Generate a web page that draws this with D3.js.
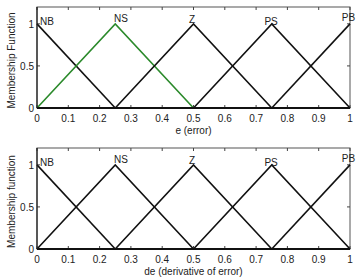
<!DOCTYPE html>
<html>
<head>
<meta charset="utf-8">
<script src="https://cdn.jsdelivr.net/npm/d3@7"></script>
<style>
  body { margin: 0; background: #fff; }
  svg text { font-family: "Liberation Sans Narrow", "Liberation Sans", Arial, sans-serif; fill: #222; }
</style>
</head>
<body>
<svg id="chart" width="364" height="278"></svg>
<script>
// membership sets (same for e and de)
var setNames = ['NB', 'NS', 'Z', 'PS', 'PB'];
var setPoints = [
    [[0, 1], [0.25, 0]],
    [[0, 0], [0.25, 1], [0.5, 0]],
    [[0.25, 0], [0.5, 1], [0.75, 0]],
    [[0.5, 0], [0.75, 1], [1, 0]],
    [[0.75, 0], [1, 1]]
];
var xTicks = [0, 0.1, 0.2, 0.3, 0.4, 0.5, 0.6, 0.7, 0.8, 0.9, 1];
var yTicks = [0, 0.5, 1];
var yTickLabels = ['0', '0.5', '1'];
// where each set label sits (x value, y value of baseline)
var labelPos = [[0.032, 0.99], [0.268, 1.02], [0.495, 1.01], [0.748, 0.99], [0.995, 1.03]];

var panels = [
    { top: 7, bottom: 108, xlabel: 'e (error)', ylabel: 'Membership Function', green: 1 },
    { top: 148, bottom: 249, xlabel: 'de (derivative of error)', ylabel: 'Membership function', green: -1 }
];

var svg = d3.select('#chart');
var left = 37, right = 350;

panels.forEach(function(p){
    var x = d3.scaleLinear().domain([0, 1]).range([left, right]);
    var y = d3.scaleLinear().domain([0, 1.2]).range([p.bottom, p.top]);
    var g = svg.append('g');

    // box
    g.append('rect')
        .attr('x', left).attr('y', p.top)
        .attr('width', right - left).attr('height', p.bottom - p.top)
        .attr('fill', 'none').attr('stroke', '#555').attr('stroke-width', 1);

    // inward ticks on all four sides
    xTicks.forEach(function(t){
        g.append('line').attr('x1', x(t)).attr('x2', x(t))
            .attr('y1', p.bottom).attr('y2', p.bottom - 3).attr('stroke', '#444');
        g.append('line').attr('x1', x(t)).attr('x2', x(t))
            .attr('y1', p.top).attr('y2', p.top + 3).attr('stroke', '#444');
        g.append('text').attr('x', x(t)).attr('y', p.bottom + 14)
            .attr('text-anchor', 'middle').attr('font-size', 10).text(t);
    });
    yTicks.forEach(function(t, i){
        g.append('line').attr('x1', left).attr('x2', left + 3)
            .attr('y1', y(t)).attr('y2', y(t)).attr('stroke', '#444');
        g.append('line').attr('x1', right).attr('x2', right - 3)
            .attr('y1', y(t)).attr('y2', y(t)).attr('stroke', '#444');
        g.append('text').attr('x', left - 3).attr('y', y(t) + 4)
            .attr('text-anchor', 'end').attr('font-size', 10).text(yTickLabels[i]);
    });

    var line = d3.line().x(function(d){ return x(d[0]); }).y(function(d){ return y(d[1]); });
    setPoints.forEach(function(pts, i){
        g.append('path').attr('d', line(pts)).attr('fill', 'none')
            .attr('stroke', i === p.green ? '#2b8a2b' : '#111')
            .attr('stroke-width', 1.6);
    });

    // thick baseline
    g.append('line').attr('x1', left).attr('x2', right)
        .attr('y1', p.bottom).attr('y2', p.bottom)
        .attr('stroke', '#111').attr('stroke-width', 2);
    g.append('line').attr('x1', left).attr('x2', left)
        .attr('y1', p.top).attr('y2', p.bottom)
        .attr('stroke', '#222').attr('stroke-width', 1.2);

    setNames.forEach(function(n, i){
        g.append('text').attr('x', x(labelPos[i][0])).attr('y', y(labelPos[i][1]))
            .attr('text-anchor', 'middle').attr('font-size', 10).text(n);
    });

    g.append('text').attr('x', x(0.5)).attr('y', p.bottom + 26)
        .attr('text-anchor', 'middle').attr('font-size', 10).text(p.xlabel);
    g.append('text')
        .attr('transform', 'translate(15,' + ((p.top + p.bottom) / 2 + 3) + ') rotate(-90)')
        .attr('text-anchor', 'middle').attr('font-size', 10).text(p.ylabel);
});
</script>
</body>
</html>
